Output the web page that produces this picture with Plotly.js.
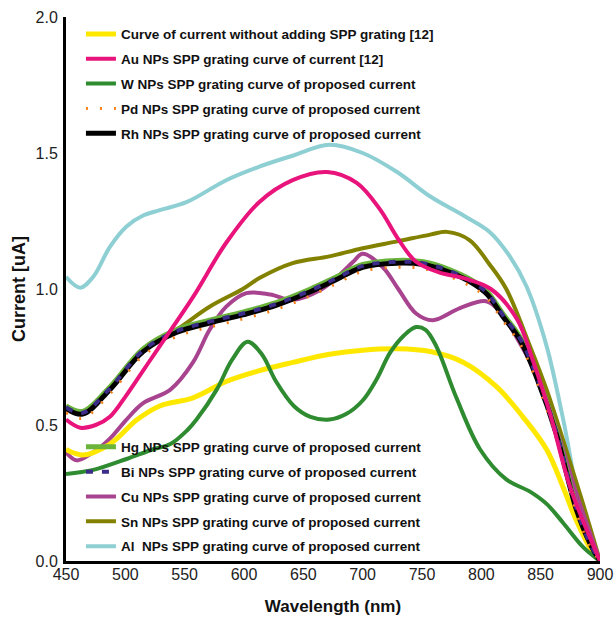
<!DOCTYPE html>
<html>
<head>
<meta charset="utf-8">
<script src="https://cdn.plot.ly/plotly-3.0.1.min.js"></script>
<style>html,body{margin:0;padding:0;background:#fff;}#chart{width:616px;height:621px;}</style>
</head>
<body>
<div id="chart"></div>
<script>
// ---- data ----
const seriesNames = [
  "Curve of current without adding SPP grating [12]",
  "Au NPs SPP grating curve of current [12]",
  "W NPs SPP grating curve of proposed current",
  "Pd NPs SPP grating curve of proposed current",
  "Rh NPs SPP grating curve of proposed current",
  "Hg NPs SPP grating curve of proposed current",
  "Bi NPs SPP grating curve of proposed current",
  "Cu NPs SPP grating curve of proposed current",
  "Sn NPs SPP grating curve of proposed current",
  "Al  NPs SPP grating curve of proposed current"
];

const noGratingX = [450,464,487,510,529,557,585,613,641,672,700,729,757,785,813,835,855,869,880,894,900];
const noGratingY = [0.41,0.39,0.43,0.52,0.57,0.60,0.66,0.70,0.73,0.76,0.775,0.78,0.77,0.73,0.64,0.53,0.41,0.27,0.15,0.03,0.0];

const auX = [450,462,475,487,501,515,529,557,585,613,641,670,695,715,729,745,765,785,808,830,844,858,875,900];
const auY = [0.52,0.49,0.50,0.53,0.61,0.70,0.79,0.97,1.17,1.32,1.40,1.43,1.39,1.29,1.19,1.10,1.06,1.04,1.0,0.89,0.73,0.54,0.27,0.0];

const wX = [450,473,501,523,538,552,560,577,590,603,615,627,642,656,672,686,700,712,723,735,745,753,762,779,799,821,841,855,869,886,900];
const wY = [0.32,0.335,0.375,0.41,0.43,0.48,0.52,0.63,0.74,0.806,0.76,0.66,0.57,0.53,0.52,0.54,0.59,0.67,0.765,0.83,0.86,0.85,0.79,0.60,0.41,0.30,0.255,0.21,0.14,0.05,0.0];

const pdX = [450,464,487,515,543,571,599,627,656,678,700,729,751,774,793,805,818,833,847,863,880,892,900];
const pdY = [0.545,0.525,0.615,0.755,0.825,0.86,0.89,0.925,0.975,1.02,1.065,1.08,1.075,1.045,1.005,0.965,0.885,0.795,0.655,0.455,0.18,0.05,0.0];

const rhX = [450,464,487,515,543,571,599,627,656,678,700,729,751,774,793,805,818,833,847,863,880,892,900];
const rhY = [0.56,0.54,0.63,0.77,0.84,0.875,0.905,0.94,0.99,1.035,1.08,1.095,1.09,1.06,1.02,0.98,0.90,0.81,0.67,0.47,0.19,0.06,0.0];

const hgX = [450,464,487,515,543,571,599,627,656,678,700,729,751,774,793,805,818,833,847,863,880,892,900];
const hgY = [0.57,0.55,0.64,0.78,0.85,0.885,0.915,0.95,1.0,1.045,1.09,1.105,1.10,1.07,1.03,0.99,0.91,0.82,0.68,0.48,0.20,0.065,0.0];

const biX = [450,464,487,515,543,571,599,627,656,678,700,729,751,774,793,805,818,833,847,863,880,892,900];
const biY = [0.565,0.545,0.635,0.775,0.845,0.88,0.91,0.945,0.995,1.04,1.085,1.10,1.095,1.065,1.025,0.985,0.905,0.815,0.675,0.475,0.195,0.06,0.0];

const cuX = [450,459,473,487,501,515,538,557,571,585,602,622,641,664,680,692,700,717,730,745,759,782,804,815,830,847,863,880,900];
const cuY = [0.40,0.37,0.40,0.45,0.52,0.58,0.63,0.73,0.85,0.935,0.985,0.98,0.96,0.995,1.05,1.10,1.13,1.08,1.0,0.91,0.885,0.93,0.955,0.92,0.82,0.68,0.49,0.25,0.0];

const snX = [450,464,487,515,543,571,599,613,641,672,700,729,757,771,790,807,821,841,855,870,885,900];
const snY = [0.57,0.55,0.64,0.78,0.85,0.935,1.0,1.04,1.095,1.12,1.15,1.175,1.20,1.21,1.18,1.09,1.0,0.79,0.63,0.43,0.22,0.0];

const alX = [450,462,473,487,501,515,529,552,585,613,641,672,700,729,757,785,807,824,838,855,869,886,900];
const alY = [1.045,1.005,1.045,1.155,1.23,1.27,1.29,1.32,1.40,1.45,1.49,1.53,1.50,1.43,1.34,1.27,1.21,1.12,1.01,0.79,0.52,0.15,0.0];

const xTicks = [450,500,550,600,650,700,750,800,850,900];
const yTicks = [0.0,0.5,1.0,1.5,2.0];

// ---- styling ----
const sans = "Liberation Sans, Arial, sans-serif";

function tr(x, y, name, color, width, dash, legend, rank) {
  return {
    x: x, y: y, name: name, type: "scatter", mode: "lines",
    line: {color: color, width: width, dash: dash || "solid", shape: "spline", smoothing: 1},
    legend: legend, legendrank: rank, legendgroup: "g" + rank,
    hoverinfo: "x+y+name"
  };
}

// draw order (bottom -> top)
const data = [
  tr(alX, alY, seriesNames[9], "#8ECFD3", 4, null, "legend2", 10),
  tr(snX, snY, seriesNames[8], "#828200", 4, null, "legend2", 9),
  tr(cuX, cuY, seriesNames[7], "#A8448F", 4, null, "legend2", 8),
  tr(noGratingX, noGratingY, seriesNames[0], "#FFE800", 5, null, "legend", 1),
  tr(wX, wY, seriesNames[2], "#2E8B30", 4, null, "legend", 3),
  tr(hgX, hgY, seriesNames[5], "#6BB43C", 5, null, "legend2", 6),
  tr(rhX, rhY, seriesNames[4], "#000000", 5, null, "legend", 5),
  tr(biX, biY, seriesNames[6], "#3A2C88", 4, "7px,9px", "legend2", 7),
  tr(pdX, pdY, seriesNames[3], "#F5821F", 3, "2px,12px", "legend", 4),
  tr(auX, auY, seriesNames[1], "#E8147C", 4, null, "legend", 2)
];

const legendFont = {family: sans, size: 13.5, color: "#111", weight: "bold"};

const layout = {
  width: 616, height: 621,
  margin: {l: 66, r: 16, t: 17, b: 60, pad: 0},
  paper_bgcolor: "#ffffff", plot_bgcolor: "#ffffff",
  showlegend: true,
  xaxis: {
    range: [450, 900], tickvals: xTicks, ticktext: xTicks.map(String),
    showgrid: false, zeroline: false, showline: true, linecolor: "#000", linewidth: 3,
    ticks: "", ticklabelstandoff: -3,
    tickfont: {family: sans, size: 16, color: "#222"},
    title: {text: "Wavelength (nm)", font: {family: sans, size: 17, color: "#111", weight: "bold"}, standoff: 18}
  },
  yaxis: {
    range: [0, 2], tickvals: yTicks, ticktext: yTicks.map(v => v.toFixed(1)),
    showgrid: false, zeroline: false, showline: true, linecolor: "#000", linewidth: 3,
    ticks: "", ticklabelstandoff: 2,
    tickfont: {family: sans, size: 16, color: "#222"},
    title: {text: "Current [uA]", font: {family: sans, size: 18, color: "#111", weight: "bold"}, standoff: 6}
  },
  legend: {
    x: 0.028, xanchor: "left", y: 0.997, yanchor: "top",
    bgcolor: "rgba(0,0,0,0)", borderwidth: 0,
    font: legendFont, traceorder: "grouped", tracegroupgap: 4.3
  },
  legend2: {
    x: 0.028, xanchor: "left", y: 0.238, yanchor: "top",
    bgcolor: "rgba(0,0,0,0)", borderwidth: 0,
    font: legendFont, traceorder: "grouped", tracegroupgap: 4.3
  }
};

Plotly.newPlot("chart", data, layout, {displayModeBar: false});
</script>
</body>
</html>
